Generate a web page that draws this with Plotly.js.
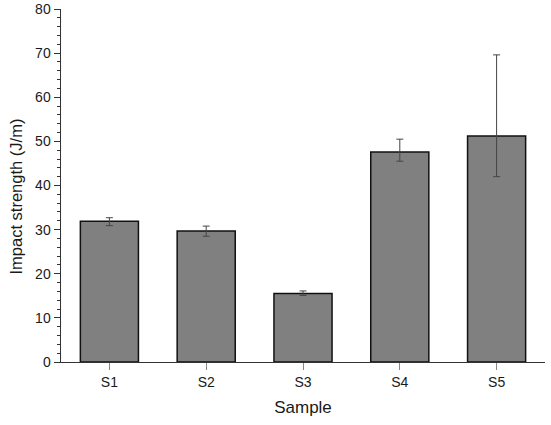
<!DOCTYPE html>
<html>
<head>
<meta charset="utf-8">
<script src="https://cdn.plot.ly/plotly-3.0.1.min.js"></script>
<style>html,body{margin:0;padding:0;background:#fff;}#chart{width:551px;height:425px;}</style>
</head>
<body>
<div id="chart"></div>
<script>
const samples = ["S1", "S2", "S3", "S4", "S5"];
const strength = [31.9, 29.7, 15.5, 47.6, 51.2];
const errPlus = [0.8, 1.1, 0.6, 2.9, 18.4];
const errMinus = [1.0, 1.2, 0.4, 2.1, 9.2];

const trace = {
  type: "bar",
  x: samples,
  y: strength,
  width: 0.6,
  marker: {color: "#808080", line: {color: "#111", width: 1.5}},
  error_y: {
    type: "data", symmetric: false,
    array: errPlus, arrayminus: errMinus,
    color: "#444", thickness: 1, width: 3.5
  },
  hoverinfo: "none"
};

const layout = {
  width: 551, height: 425,
  margin: {l: 61, r: 6, t: 9, b: 63},
  paper_bgcolor: "#fff", plot_bgcolor: "#fff",
  font: {family: "Liberation Sans, Arial, sans-serif", color: "#1a1a1a", size: 14},
  showlegend: false,
  bargap: 0.4,
  xaxis: {
    range: [-0.5, 4.5],
    showline: true, linecolor: "#333", linewidth: 1,
    ticks: "outside", ticklen: 7, tickcolor: "#888", tickwidth: 1,
    showgrid: false, zeroline: false,
    tickfont: {size: 14, color: "#1a1a1a"},
    title: {text: "Sample", font: {size: 17, color: "#1a1a1a"}, standoff: 12}
  },
  yaxis: {
    range: [0, 80],
    dtick: 10,
    ticklabeloverflow: "allow",
    showline: true, linecolor: "#333", linewidth: 1.5,
    ticks: "outside", ticklen: 6, tickcolor: "#333", tickwidth: 1,
    minor: {dtick: 2, ticks: "outside", ticklen: 3, tickcolor: "#333", tickwidth: 1, showgrid: false},
    showgrid: false, zeroline: false,
    tickfont: {size: 14, color: "#1a1a1a"}
  },
  annotations: [{
    text: "Impact strength (J/m)",
    xref: "paper", yref: "paper",
    x: (15 - 61) / 484, y: (362 - 196.5) / 353,
    xanchor: "center", yanchor: "middle",
    textangle: -90, showarrow: false,
    font: {size: 16.5, color: "#1a1a1a"}
  }]
};

Plotly.newPlot("chart", [trace], layout, {displayModeBar: false, staticPlot: true});
</script>
</body>
</html>
